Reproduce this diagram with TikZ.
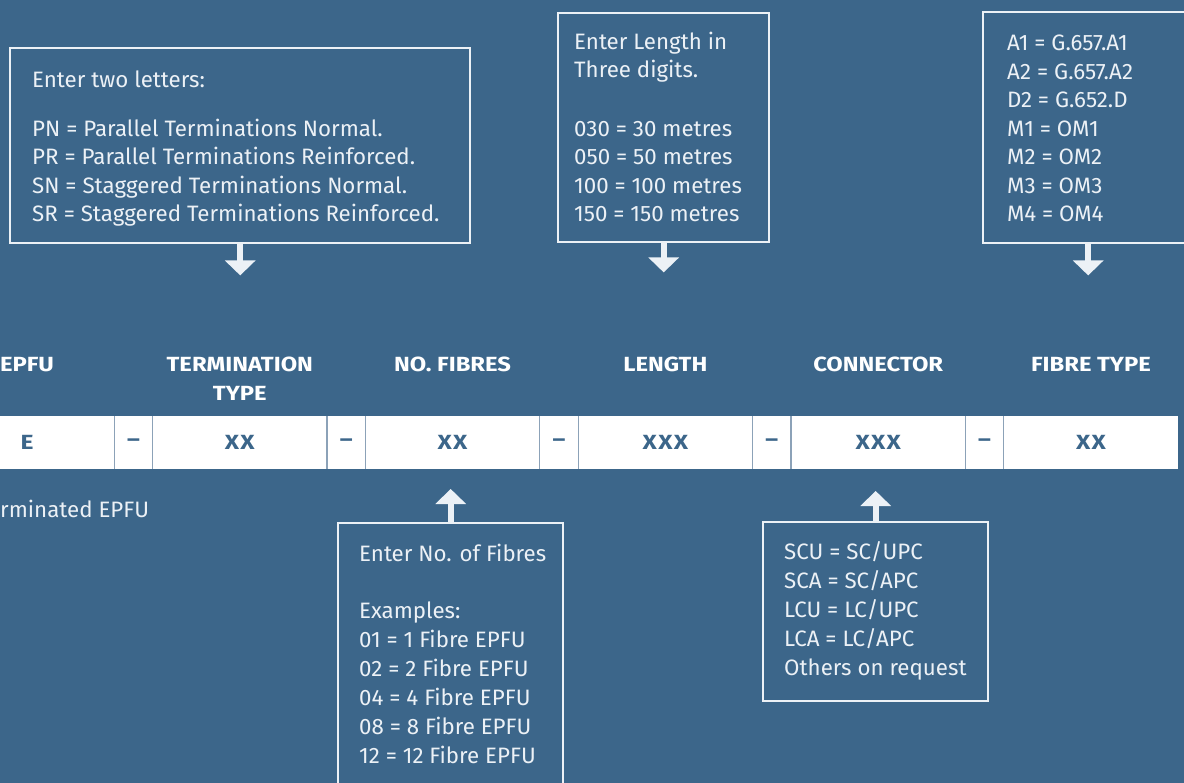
\documentclass[tikz,border=0pt]{standalone}
\usepackage{fontspec}
\setmainfont{Fira Sans}
\newfontfamily\widefont{Fira Sans}[FakeStretch=1.16]
\newfontfamily\cellfont{Fira Sans}[FakeStretch=1.2,LetterSpace=6]
\usetikzlibrary{arrows.meta,positioning}
\definecolor{panel}{RGB}{60,102,138}
\definecolor{ink}{RGB}{236,241,246}
\definecolor{rulegrey}{RGB}{140,162,184}
\tikzset{
  infobox/.style={draw=ink, line width=2.4pt, inner sep=0pt},
  info/.style={text=ink, align=left, inner sep=0pt, font=\fontsize{22.3}{28.5}\selectfont},
  colhead/.style={text=white, align=center, inner sep=0pt, font=\widefont\bfseries\fontsize{20.5}{29}\selectfont},
  valcell/.style={fill=white, text=panel, minimum width=174pt, minimum height=53pt,
    inner sep=0pt, font=\cellfont\bfseries\fontsize{20.5}{24}\selectfont},
  dashcell/.style={valcell, minimum width=38pt},
  divider/.style={draw=rulegrey, line width=1.2pt},
}

\begin{document}
\begin{tikzpicture}[x=1pt,y=-1pt,node distance=0pt,
                    >={Triangle[width=30pt,length=15pt]},
                    arrow/.style={->,draw=ink,line width=6pt}]
  \useasboundingbox (0,0) rectangle (1184,783);
  \clip (0,0) rectangle (1184,783);
  \fill[panel] (0,0) rectangle (1184,783);

  % code bar
  \node[valcell]              (epfu)  at (27,442.5) {E};
  \node[dashcell]             (d1)    [right=of epfu] {–};
  \node[valcell]              (term)  [right=of d1] {XX};
  \node[dashcell]             (d2)    [right=of term] {–};
  \node[valcell]              (fibs)  [right=of d2] {XX};
  \node[dashcell]             (d3)    [right=of fibs] {–};
  \node[valcell]              (len)   [right=of d3] {XXX};
  \node[dashcell]             (d4)    [right=of len] {–};
  \node[valcell]              (conn)  [right=of d4] {XXX};
  \node[dashcell]             (d5)    [right=of conn] {–};
  \node[valcell]              (ftype) [right=of d5] {XX};

  \draw[divider] (d1.north west) -- (d1.south west) (d1.north east) -- (d1.south east)
  (d2.north west) -- (d2.south west) (d2.north east) -- (d2.south east)
  (d3.north west) -- (d3.south west) (d3.north east) -- (d3.south east)
  (d4.north west) -- (d4.south west) (d4.north east) -- (d4.south east)
  (d5.north west) -- (d5.south west) (d5.north east) -- (d5.south east);

  % column heads
  \node[colhead, anchor=base, yshift=44pt] (hepfu)  at (epfu.north)  {EPFU};
  \node[colhead, anchor=base, yshift=15pt] (hterm)  at (term.north)  {TERMINATION\\TYPE};
  \node[colhead, anchor=base, yshift=44pt] (hfibs)  at (fibs.north)  {NO. FIBRES};
  \node[colhead, anchor=base, yshift=44pt] (hlen)   at (len.north)   {LENGTH};
  \node[colhead, anchor=base, yshift=44pt] (hconn)  at (conn.north)  {CONNECTOR};
  \node[colhead, anchor=base, yshift=44pt] (hftype) at (ftype.north) {FIBRE TYPE};

  \node[info, anchor=base west] (enote) at (0,517) {rminated EPFU};

  % boxes above (text placed by its last line)
  \node[infobox, minimum width=460pt, minimum height=195pt, anchor=north west] (termbox) at (9,47) {};
  \node[info, anchor=base west, xshift=23pt, yshift=-175pt] (termtext) at (termbox.north west)
    {Enter two letters:\\[20pt]
     PN = Parallel Terminations Normal.\\
     PR = Parallel Terminations Reinforced.\\
     SN = Staggered Terminations Normal.\\
     SR = Staggered Terminations Reinforced.};

  \node[infobox, minimum width=211pt, minimum height=229pt, anchor=north west] (lenbox) at (557,12) {};
  \node[info, anchor=base west, xshift=17pt, yshift=-210pt] (lentext) at (lenbox.north west)
    {Enter Length in\\
     Three digits.\\[30pt]
     030 = 30 metres\\
     050 = 50 metres\\
     100 = 100 metres\\
     150 = 150 metres};

  \node[infobox, minimum width=210pt, minimum height=231pt, anchor=north west] (typebox) at (982,11) {};
  \node[info, anchor=base west, xshift=25pt, yshift=-211pt] (typetext) at (typebox.north west)
    {A1 = G.657.A1\\
     A2 = G.657.A2\\
     D2 = G.652.D\\
     M1 = OM1\\
     M2 = OM2\\
     M3 = OM3\\
     M4 = OM4};

  % boxes below
  \node[infobox, minimum width=225pt, minimum height=278pt, anchor=north west] (fibbox) at (337,522) {};
  \node[info, anchor=base west, xshift=22pt, yshift=-241pt, font=\fontsize{22.3}{29}\selectfont] (fibtext) at (fibbox.north west)
    {Enter No. of Fibres\\[28pt]
     Examples:\\
     01 = 1 Fibre EPFU\\
     02 = 2 Fibre EPFU\\
     04 = 4 Fibre EPFU\\
     08 = 8 Fibre EPFU\\
     12 = 12 Fibre EPFU};

  \node[infobox, minimum width=225pt, minimum height=179pt, anchor=north west] (connbox) at (762,521) {};
  \node[info, anchor=base west, xshift=22pt, yshift=-154pt, font=\fontsize{22.3}{28.8}\selectfont] (conntext) at (connbox.north west)
    {SCU = SC/UPC\\
     SCA = SC/APC\\
     LCU = LC/UPC\\
     LCA = LC/APC\\
     Others on request};

  % arrows
  \coordinate[below=31pt of termbox] (termtip);
  \coordinate[below=29pt of lenbox]  (lentip);
  \coordinate[below=31pt of typebox] (typetip);
  \coordinate[above=33pt of fibbox]  (fibtip);
  \coordinate[above=30pt of connbox] (conntip);

  \draw[arrow] (termbox) -- (termtip);
  \draw[arrow] (lenbox)  -- (lentip);
  \draw[arrow] (typebox) -- (typetip);
  \draw[arrow] (fibbox)  -- (fibtip);
  \draw[arrow] (connbox) -- (conntip);
\end{tikzpicture}
\end{document}
